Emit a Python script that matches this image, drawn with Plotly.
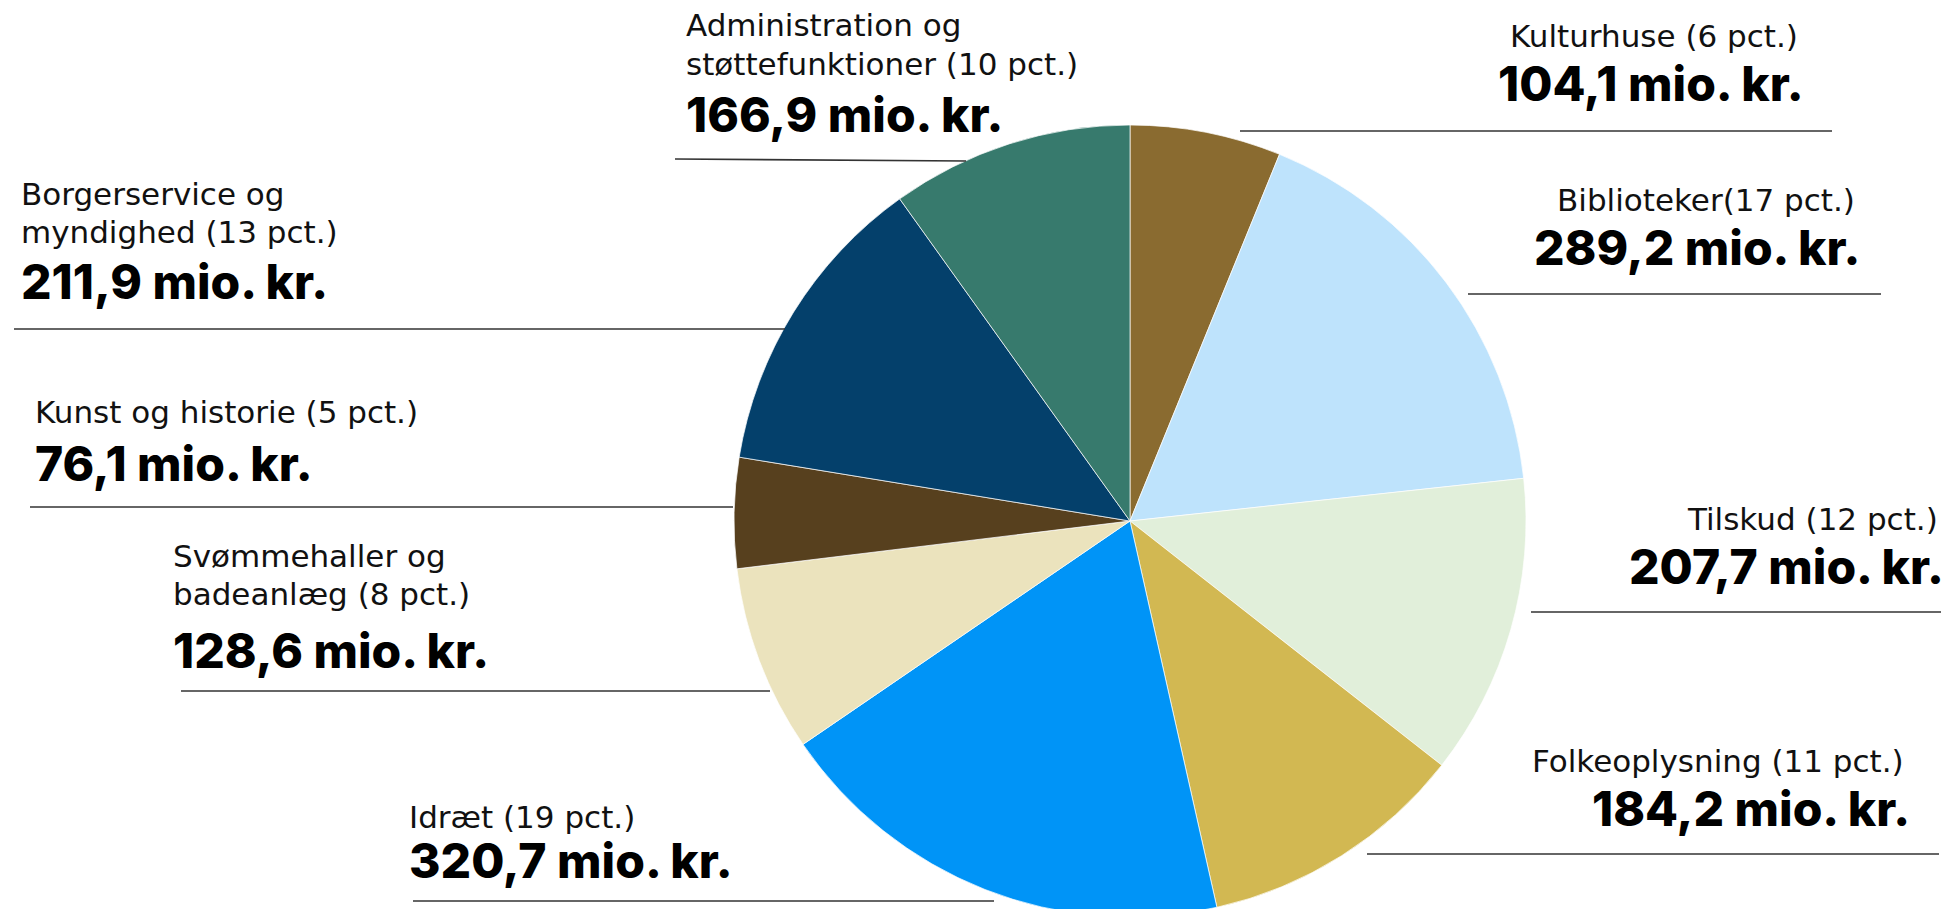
import plotly.graph_objects as go

W, H = 1949, 909

# ---- data ----
categories = ["Kulturhuse", "Biblioteker", "Tilskud", "Folkeoplysning", "Idræt",
              "Svømmehaller og badeanlæg", "Kunst og historie",
              "Borgerservice og myndighed", "Administration og støttefunktioner"]
values = [104.1, 289.2, 207.7, 184.2, 320.7, 128.6, 76.1, 211.9, 166.9]
pct = [6, 17, 12, 11, 19, 8, 5, 13, 10]
label_lines = [
    ["Kulturhuse (6 pct.)"],
    ["Biblioteker(17 pct.)"],
    ["Tilskud (12 pct.)"],
    ["Folkeoplysning (11 pct.)"],
    ["Idræt (19 pct.)"],
    ["Svømmehaller og", "badeanlæg (8 pct.)"],
    ["Kunst og historie (5 pct.)"],
    ["Borgerservice og", "myndighed (13 pct.)"],
    ["Administration og", "støttefunktioner (10 pct.)"],
]
colors = ["#8A6B30", "#BEE3FC", "#E1EFDA", "#D2B852", "#0094F7",
          "#EBE3BD", "#57401E", "#04406B", "#377A6D"]

# ---- label layout (pixel positions) ----
# x, anchor, y-centres of regular lines, y-centre of bold line, underline (x0,y0,x1,y1)
label_layout = [
    dict(x=1798, anchor="right", reg=[36], bold=83, line=(1232, 123, 1824, 123)),
    dict(x=1855, anchor="right", reg=[199.5], bold=248, line=(1460, 286, 1873, 286)),
    dict(x=1938, anchor="right", reg=[518.5], bold=566, line=(1523, 604, 1949, 604)),
    dict(x=1904, anchor="right", reg=[760.5], bold=808.5, line=(1359, 846, 1931, 846)),
    dict(x=410, anchor="left", reg=[817], bold=860, line=(405, 893, 986, 893)),
    dict(x=174, anchor="left", reg=[556, 594], bold=650, line=(173, 683, 762, 683)),
    dict(x=36, anchor="left", reg=[412], bold=463, line=(22, 499, 725, 499)),
    dict(x=22, anchor="left", reg=[194, 232], bold=281, line=(6, 321, 777, 321)),
    dict(x=687, anchor="left", reg=[25, 63.5], bold=114, line=(667, 151, 958, 153)),
]
Y_SHIFT = -8                               # rendering offset correction
X_SHIFT = {"left": (-11, -11), "right": (-6, 0)}   # (regular, bold)

cx, r = 1122, 396
fig = go.Figure(go.Pie(
    labels=categories, values=values, sort=False, direction="clockwise", rotation=0,
    marker=dict(colors=colors, line=dict(color="rgba(255,255,255,0.7)", width=1)),
    textinfo="none", showlegend=False,
    domain=dict(x=[(cx - r) / W, (cx + r) / W], y=[0, 2 * r / H]),
))

REG = dict(family="DejaVu Sans, sans-serif", size=31, color="#111111")
BOLD = dict(family="Inter, Lato, sans-serif", size=48, color="#000000", weight=800)

annotations, shapes = [], []
for lines, v, lay in zip(label_lines, values, label_layout):
    sx_reg, sx_bold = X_SHIFT[lay["anchor"]]
    for txt, yc in zip(lines, lay["reg"]):
        annotations.append(dict(text=txt, x=(lay["x"] + sx_reg) / W, y=1 - (yc + Y_SHIFT) / H,
                                xref="paper", yref="paper",
                                xanchor=lay["anchor"], yanchor="middle", showarrow=False,
                                font=REG))
    vtxt = f"{v:.1f}".replace(".", ",") + " mio. kr."
    annotations.append(dict(text=vtxt, x=(lay["x"] + sx_bold) / W,
                            y=1 - (lay["bold"] + Y_SHIFT) / H,
                            xref="paper", yref="paper",
                            xanchor=lay["anchor"], yanchor="middle", showarrow=False,
                            font=BOLD))
    x0, y0, x1, y1 = lay["line"]
    shapes.append(dict(type="line", xref="paper", yref="paper",
                       x0=x0 / W, y0=1 - y0 / H, x1=x1 / W, y1=1 - y1 / H,
                       line=dict(color="#333333", width=1.6)))

fig.update_layout(
    width=W, height=H, margin=dict(l=0, r=0, t=0, b=0),
    paper_bgcolor="white", plot_bgcolor="white",
    annotations=annotations, shapes=shapes,
)
fig.write_html("out.html")
